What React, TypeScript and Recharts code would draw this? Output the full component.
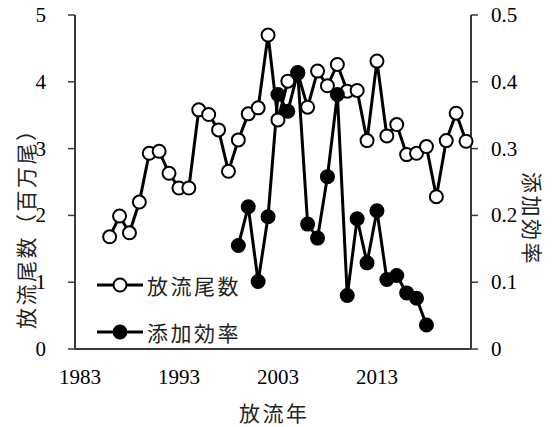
import React from 'react';
import { LineChart, Line, XAxis, YAxis } from 'recharts';

const years = [1986, 1987, 1988, 1989, 1990, 1991, 1992, 1993, 1994, 1995, 1996, 1997, 1998, 1999, 2000, 2001, 2002, 2003, 2004, 2005, 2006, 2007, 2008, 2009, 2010, 2011, 2012, 2013, 2014, 2015, 2016, 2017, 2018, 2019, 2020, 2021, 2022];
const releaseCounts = [1.68, 1.99, 1.74, 2.2, 2.93, 2.96, 2.63, 2.41, 2.41, 3.58, 3.51, 3.28, 2.66, 3.13, 3.52, 3.61, 4.7, 3.43, 4.01, 4.13, 3.62, 4.16, 3.94, 4.26, 3.86, 3.87, 3.12, 4.31, 3.19, 3.36, 2.91, 2.93, 3.03, 2.28, 3.12, 3.53, 3.11];
const additionRates: (number | null)[] = [null, null, null, null, null, null, null, null, null, null, null, null, null, 0.155, 0.213, 0.101, 0.198, 0.381, 0.356, 0.414, 0.187, 0.166, 0.258, 0.381, 0.08, 0.195, 0.129, 0.207, 0.104, 0.11, 0.084, 0.076, 0.036, null, null, null, null];
const xTickLabels = [1983, 1993, 2003, 2013];
const xMinorTicks = [1982.5, 1983.5, 1984.5, 1985.5, 1986.5, 1987.5, 1988.5, 1989.5, 1990.5, 1991.5, 1992.5, 1993.5, 1994.5, 1995.5, 1996.5, 1997.5, 1998.5, 1999.5, 2000.5, 2001.5, 2002.5, 2003.5, 2004.5, 2005.5, 2006.5, 2007.5, 2008.5, 2009.5, 2010.5, 2011.5, 2012.5, 2013.5, 2014.5, 2015.5, 2016.5, 2017.5, 2018.5, 2019.5, 2020.5, 2021.5, 2022.5];
const leftTicks = [0, 1, 2, 3, 4, 5];
const rightTicks = [0, 0.1, 0.2, 0.3, 0.4, 0.5];
const seriesNames = ['放流尾数', '添加効率'];

const data = years.map((y, i) => ({ year: y, release: releaseCounts[i], rate: additionRates[i] }));

const serif = "'Liberation Serif', 'Times New Roman', 'DejaVu Serif', serif";
const cjk = "'Noto Sans CJK JP', sans-serif";
const axisColor = '#3a3a3a';
const jpSize = 21;
const jpSpacing = 2.5;

const SerifTick = (props: any) => {
  const { x, y, payload, textAnchor, tickFormatter, index } = props;
  const label = tickFormatter ? tickFormatter(payload.value, index) : String(payload.value);
  return (
    <text x={x} y={y} textAnchor={textAnchor} dominantBaseline="central" fontSize={21} fill="#000" style={{ fontFamily: serif }}>
      {label}
    </text>
  );
};

const jpStyle = { fontFamily: cjk, letterSpacing: jpSpacing };

const LeftLabel = (props: any) => {
  const vb = props.viewBox;
  const cx = vb.x + 25;
  const cy = vb.y + vb.height - 20;
  return (
    <text x={cx} y={cy} transform={`rotate(-90, ${cx}, ${cy})`} textAnchor="start" dominantBaseline="central" style={jpStyle} fontSize={jpSize} fill="#222">
      放流尾数（百万尾）
    </text>
  );
};

const RightLabel = (props: any) => {
  const vb = props.viewBox;
  const cx = vb.x + 62;
  const cy = vb.y + 157;
  return (
    <text x={cx} y={cy} transform={`rotate(90, ${cx}, ${cy})`} textAnchor="start" dominantBaseline="central" style={jpStyle} fontSize={jpSize} fill="#222">
      添加効率
    </text>
  );
};

const BottomLabel = (props: any) => {
  const vb = props.viewBox;
  const cx = vb.x + vb.width / 2 - 34;
  const cy = vb.y + 63;
  return (
    <text x={cx} y={cy} textAnchor="start" dominantBaseline="central" style={jpStyle} fontSize={jpSize} fill="#222">
      放流年
    </text>
  );
};

const LegendRow = ({ filled, name }: { filled: boolean; name: string }) => (
  <div style={{ display: 'flex', alignItems: 'center', height: 46.7 }}>
    <svg width={52} height={20} style={{ display: 'block' }}>
      <line x1={2} y1={10} x2={48} y2={10} stroke="#000" strokeWidth={3} />
      <circle cx={25} cy={10} r={6.5} fill={filled ? '#000' : '#fff'} stroke="#000" strokeWidth={2} />
    </svg>
    <span style={{ fontFamily: cjk, fontSize: jpSize, letterSpacing: jpSpacing, color: '#222', lineHeight: '22px' }}>{name}</span>
  </div>
);

export default function App() {
  return (
    <div style={{ position: 'absolute', left: 0, top: 0, width: 552, height: 427, background: '#fff' }}>
      <LineChart width={552} height={427} data={data} margin={{ top: 15, right: 0, bottom: 0, left: 0 }}>
        <XAxis
          xAxisId="minor"
          dataKey="year"
          type="number"
          domain={[1982.5, 2022.5]}
          ticks={xMinorTicks}
          interval={0}
          height={0}
          axisLine={false}
          tickLine={{ stroke: axisColor, strokeWidth: 1.5 }}
          tickSize={6}
          tickFormatter={() => ''}
        />
        <XAxis
          xAxisId="main"
          dataKey="year"
          type="number"
          domain={[1982.5, 2022.5]}
          ticks={xTickLabels}
          interval={0}
          height={78}
          axisLine={{ stroke: axisColor, strokeWidth: 2 }}
          tickLine={false}
          tickSize={0}
          tickMargin={28}
          tick={<SerifTick />}
          label={<BottomLabel />}
        />
        <YAxis
          yAxisId="left"
          orientation="left"
          domain={[0, 5]}
          ticks={leftTicks}
          interval={0}
          width={75}
          axisLine={{ stroke: axisColor, strokeWidth: 2 }}
          tickLine={{ stroke: axisColor, strokeWidth: 1.5 }}
          tickSize={7}
          tickMargin={22}
          tick={<SerifTick />}
          label={<LeftLabel />}
        />
        <YAxis
          yAxisId="right"
          orientation="right"
          domain={[0, 0.5]}
          ticks={rightTicks}
          interval={0}
          width={81}
          axisLine={{ stroke: axisColor, strokeWidth: 2 }}
          tickLine={{ stroke: axisColor, strokeWidth: 1.5 }}
          tickSize={7}
          tickMargin={13}
          tickFormatter={(v: number) => (v === 0 ? '0' : String(v))}
          tick={<SerifTick />}
          label={<RightLabel />}
        />
        <Line
          xAxisId="main"
          yAxisId="left"
          dataKey="release"
          name={seriesNames[0]}
          stroke="#000"
          strokeWidth={3}
          dot={{ r: 6.5, fill: '#fff', stroke: '#000', strokeWidth: 2 }}
          isAnimationActive={false}
        />
        <Line
          xAxisId="main"
          yAxisId="right"
          dataKey="rate"
          name={seriesNames[1]}
          stroke="#000"
          strokeWidth={3}
          dot={{ r: 6.5, fill: '#000', stroke: '#000', strokeWidth: 2 }}
          isAnimationActive={false}
        />
      </LineChart>
      <div style={{ position: 'absolute', left: 95, top: 262 }}>
        <LegendRow filled={false} name={seriesNames[0]} />
        <LegendRow filled={true} name={seriesNames[1]} />
      </div>
    </div>
  );
}
